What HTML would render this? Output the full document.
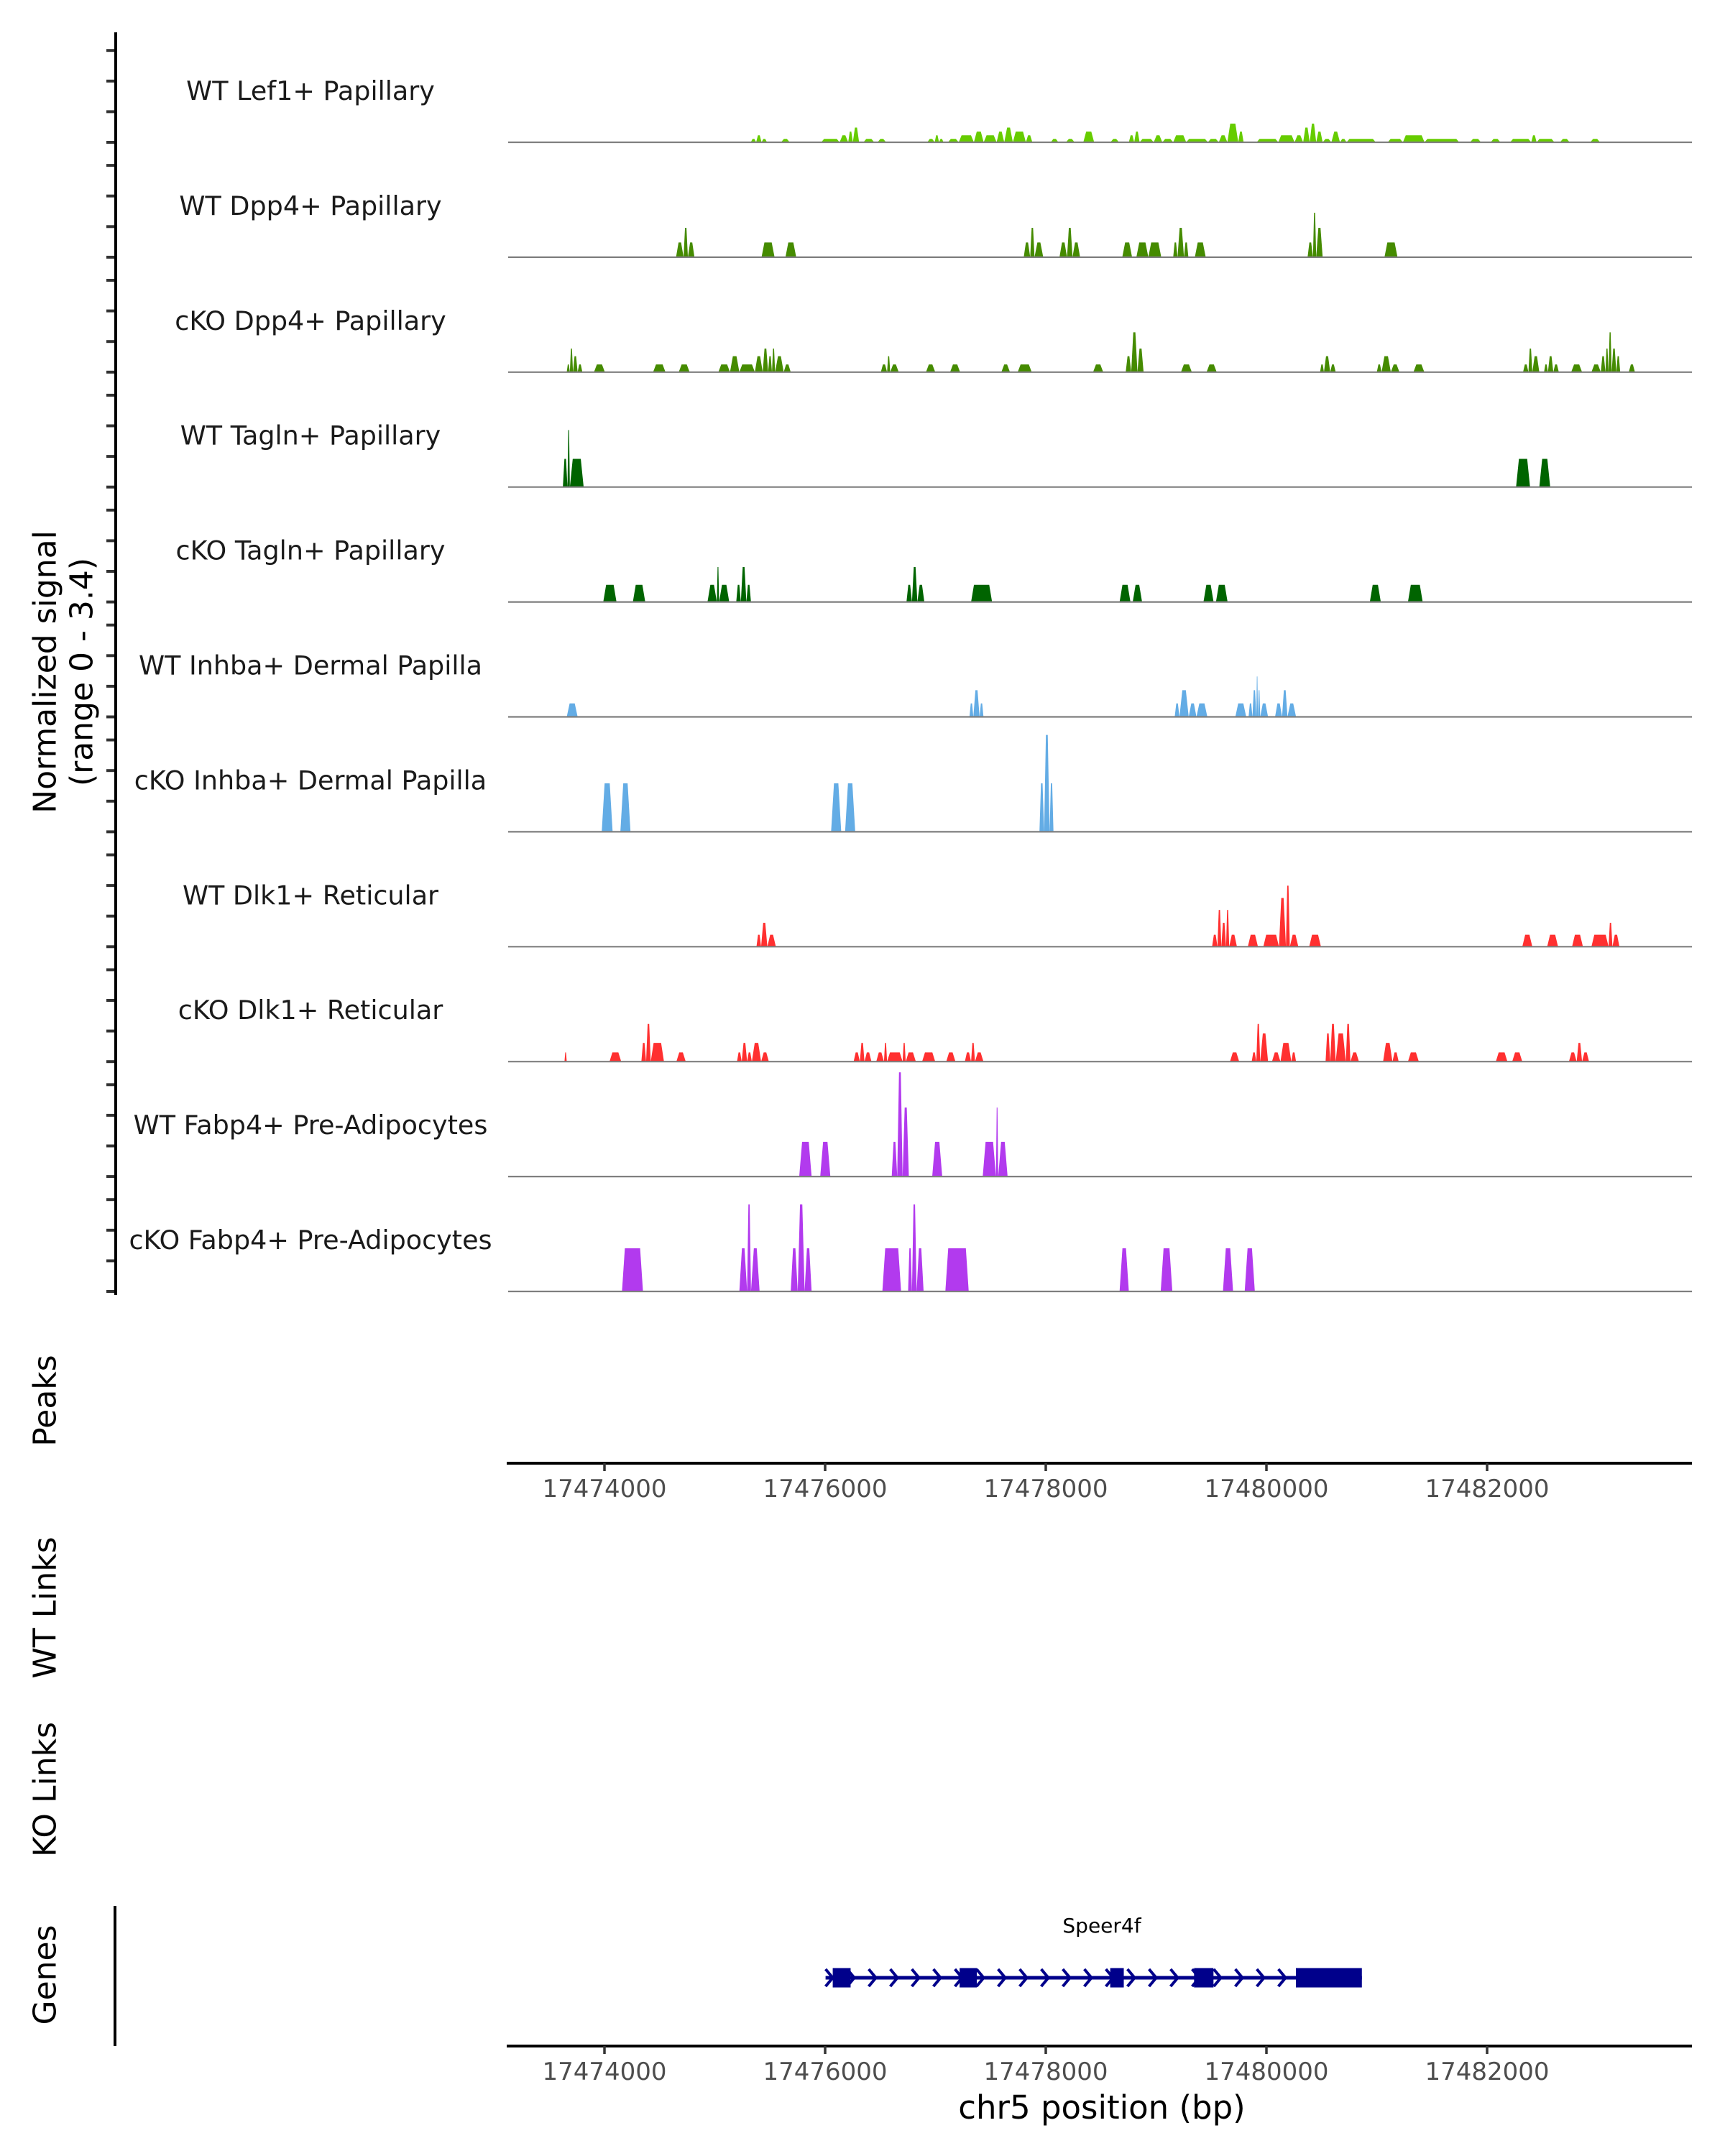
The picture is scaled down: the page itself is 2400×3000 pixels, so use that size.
<!DOCTYPE html>
<html><head><meta charset="utf-8">
<style>
html,body{margin:0;padding:0;background:#fff;}
svg{display:block;font-family:"DejaVu Sans","Liberation Sans",sans-serif;}
</style></head>
<body>
<svg id="chart" width="2400" height="3000" viewBox="0 0 2400 3000" xmlns="http://www.w3.org/2000/svg">
<rect x="0" y="0" width="2400" height="3000" fill="#fff"/>
<g id="tracks"></g>
<g id="axes"></g>
</svg>
<script>
// Region: offsets are bp relative to 17473000
const REGION_START = 17473000;
const trackNames = ["WT Lef1+ Papillary","WT Dpp4+ Papillary","cKO Dpp4+ Papillary","WT Tagln+ Papillary","cKO Tagln+ Papillary","WT Inhba+ Dermal Papilla","cKO Inhba+ Dermal Papilla","WT Dlk1+ Reticular","cKO Dlk1+ Reticular","WT Fabp4+ Pre-Adipocytes","cKO Fabp4+ Pre-Adipocytes"];
const trackColors = ["#66cc00","#458b00","#458b00","#006400","#006400","#63ace5","#63ace5","#ff3030","#ff3030","#b23aee","#b23aee"];
// [startOffset, endOffset, signal]
const covLef1WT = [[2352,2402,0.11],[2402,2452,0.23],[2452,2503,0.11],[2633,2714,0.11],[3006,3177,0.11],[3177,3257,0.23],[3257,3300,0.35],[3300,3358,0.48],[3398,3499,0.11],[3529,3609,0.11],[3991,4060,0.11],[4060,4100,0.23],[4100,4142,0.11],[4183,4283,0.11],[4283,4424,0.23],[4424,4515,0.35],[4515,4635,0.23],[4635,4706,0.35],[4706,4786,0.48],[4786,4907,0.35],[4907,4967,0.23],[5138,5209,0.11],[5279,5360,0.11],[5440,5541,0.35],[5692,5772,0.11],[5863,5913,0.23],[5913,5963,0.35],[5963,6094,0.11],[6094,6174,0.23],[6174,6275,0.11],[6275,6396,0.23],[6396,6597,0.11],[6597,6698,0.11],[6698,6778,0.23],[6778,6879,0.61],[6879,6929,0.35],[7050,7251,0.11],[7251,7402,0.23],[7402,7482,0.23],[7482,7543,0.48],[7543,7603,0.61],[7603,7663,0.35],[7663,7744,0.11],[7744,7824,0.35],[7824,7885,0.11],[7885,8156,0.11],[8267,8408,0.11],[8408,8609,0.23],[8609,8931,0.11],[9032,9133,0.11],[9223,9314,0.11],[9404,9600,0.11],[9600,9650,0.23],[9650,9816,0.11],[9867,9957,0.11],[10148,10239,0.11]];
const covDpp4WT = [[1658,1728,0.48],[1728,1768,0.96],[1768,1829,0.48],[2452,2573,0.48],[2674,2774,0.48],[4887,4947,0.48],[4947,4987,0.96],[4987,5068,0.48],[5219,5289,0.48],[5289,5340,0.96],[5340,5410,0.48],[5802,5893,0.48],[5933,6044,0.48],[6044,6164,0.48],[6275,6315,0.48],[6315,6375,0.96],[6375,6416,0.48],[6476,6577,0.48],[7523,7573,0.48],[7573,7603,1.45],[7603,7663,0.96],[8237,8358,0.48]];
const covDpp4KO = [[643,672,0.25],[672,701,0.77],[701,744,0.52],[744,788,0.25],[896,997,0.25],[1445,1560,0.25],[1683,1784,0.25],[2051,2159,0.25],[2159,2246,0.52],[2246,2390,0.25],[2390,2463,0.52],[2463,2513,0.77],[2513,2549,0.52],[2549,2578,0.77],[2578,2658,0.52],[2658,2723,0.25],[3560,3618,0.25],[3618,3647,0.52],[3647,3726,0.25],[3979,4065,0.25],[4203,4296,0.25],[4679,4759,0.25],[4831,4961,0.25],[5531,5625,0.25],[5834,5885,0.52],[5885,5943,1.3],[5943,6000,0.77],[6347,6448,0.25],[6585,6679,0.25],[7639,7675,0.25],[7675,7733,0.52],[7733,7784,0.25],[8166,8210,0.25],[8210,8296,0.52],[8296,8376,0.25],[8506,8607,0.25],[9524,9574,0.25],[9574,9610,0.77],[9610,9675,0.52],[9719,9755,0.25],[9755,9805,0.52],[9805,9856,0.25],[9971,10072,0.25],[10159,10246,0.25],[10246,10289,0.52],[10289,10318,0.77],[10318,10347,1.3],[10347,10390,0.77],[10390,10426,0.52],[10506,10563,0.25]];
const covTaglnWT = [[607,650,0.92],[650,672,1.86],[672,800,0.92],[9459,9589,0.92],[9675,9776,0.92]];
const covTaglnKO = [[982,1105,0.56],[1257,1372,0.56],[1950,2037,0.56],[2037,2058,1.14],[2058,2152,0.56],[2217,2260,0.56],[2260,2311,1.14],[2311,2354,0.56],[3798,3849,0.56],[3849,3899,1.14],[3899,3964,0.56],[4398,4593,0.56],[5777,5878,0.56],[5899,5986,0.56],[6556,6650,0.56],[6672,6780,0.56],[8101,8203,0.56],[8455,8592,0.56]];
const covInhbaWT = [[643,744,0.44],[4383,4419,0.44],[4419,4477,0.87],[4477,4513,0.44],[6289,6333,0.44],[6333,6419,0.87],[6419,6491,0.44],[6491,6592,0.44],[6852,6953,0.44],[6975,7011,0.44],[7011,7047,0.87],[7047,7062,1.32],[7062,7083,0.87],[7083,7156,0.44],[7221,7286,0.44],[7286,7336,0.87],[7336,7416,0.44]];
const covInhbaKO = [[968,1069,1.58],[1141,1235,1.58],[3098,3192,1.58],[3228,3322,1.58],[5033,5076,1.58],[5076,5127,3.16],[5127,5163,1.58]];
const covDlk1WT = [[2405,2448,0.39],[2448,2506,0.78],[2506,2585,0.39],[6636,6686,0.39],[6686,6722,1.2],[6722,6766,0.78],[6766,6795,1.2],[6795,6867,0.39],[6968,7062,0.39],[7112,7257,0.39],[7257,7322,1.59],[7322,7358,1.99],[7358,7437,0.39],[7538,7647,0.39],[9517,9610,0.39],[9748,9849,0.39],[9979,10080,0.39],[10159,10318,0.39],[10318,10354,0.78],[10354,10419,0.39]];
const covDlk1KO = [[622,643,0.3],[1040,1149,0.3],[1336,1380,0.61],[1380,1423,1.23],[1423,1546,0.61],[1661,1748,0.3],[2224,2268,0.3],[2268,2318,0.61],[2318,2362,0.3],[2362,2448,0.61],[2448,2520,0.3],[3307,3365,0.3],[3365,3408,0.61],[3408,3473,0.3],[3517,3589,0.3],[3589,3618,0.61],[3618,3762,0.3],[3762,3791,0.61],[3791,3885,0.3],[3943,4065,0.3],[4167,4253,0.3],[4340,4398,0.3],[4398,4434,0.61],[4434,4513,0.3],[6802,6888,0.3],[7004,7047,0.3],[7047,7083,1.23],[7083,7156,0.92],[7192,7271,0.3],[7271,7372,0.61],[7372,7416,0.3],[7690,7733,0.92],[7733,7784,1.23],[7784,7878,0.92],[7878,7921,1.23],[7921,8000,0.3],[8224,8311,0.61],[8311,8369,0.3],[8455,8556,0.3],[9271,9379,0.3],[9423,9517,0.3],[9950,10022,0.3],[10022,10072,0.61],[10072,10137,0.3]];
const covFabp4WT = [[2802,2917,1.13],[2997,3091,1.13],[3661,3712,1.13],[3712,3762,3.4],[3762,3820,2.25],[4037,4130,1.13],[4506,4629,1.13],[4629,4650,2.25],[4650,4737,1.13]];
const covFabp4KO = [[1156,1351,1.41],[2246,2318,1.41],[2318,2354,2.84],[2354,2434,1.41],[2723,2788,1.41],[2788,2852,2.84],[2852,2917,1.41],[3574,3748,1.41],[3813,3849,1.41],[3849,3892,2.84],[3892,3957,1.41],[4159,4376,1.41],[5777,5863,1.41],[6159,6267,1.41],[6737,6831,1.41],[6939,7033,1.41]];
const coverage = [covLef1WT,covDpp4WT,covDpp4KO,covTaglnWT,covTaglnKO,covInhbaWT,covInhbaKO,covDlk1WT,covDlk1KO,covFabp4WT,covFabp4KO];
const xTicks = [17474000,17476000,17478000,17480000,17482000];
const geneName = "Speer4f";
const geneSpan = [17476004,17480865];
const geneExons = [[17476069,17476231],[17477219,17477375],[17478584,17478707],[17479344,17479520],[17480267,17480865]];
const yMax = 3.4;

const NS="http://www.w3.org/2000/svg";
function mk(tag, attrs, parent){const e=document.createElementNS(NS,tag);for(const k in attrs)e.setAttribute(k,attrs[k]);parent.appendChild(e);return e;}
const xScale = bp => 841 + (bp - 17474000) * 307 / 2000;
// coverage offsets were read in a slightly stretched unit; calibrate to the axis
const OFFSET_CAL = 0.976;
const xOff = off => xScale(17474000 + (off - 1000) * OFFSET_CAL) + 1;
const PX_PER_UNIT = 145 / yMax;
const baseY = i => 198 + i * 159.9;
const PANEL_L = 707, PANEL_R = 2354;
const tracksG = document.getElementById('tracks');
const axesG = document.getElementById('axes');

coverage.forEach((segs, i) => {
  const g = mk('g', {}, tracksG);
  
  
  const b = baseY(i);
  segs.forEach(s => {
    const x0 = xOff(s[0]), x1 = xOff(s[1]), y = b - s[2] * PX_PER_UNIT;
    const r = Math.min(4, (x1-x0)/3);
    const p = mk('polygon', {points: `${x0},${b} ${x0+r},${y} ${x1-r},${y} ${x1},${b}`, fill: trackColors[i]}, g);
    
    
  });
  const bl = mk('line', {x1: PANEL_L, x2: PANEL_R, y1: b, y2: b, stroke: '#7f7f7f', 'stroke-width': 2.2}, g);
  
  
  const t = mk('text', {x: 432, y: b - 59, 'text-anchor': 'middle', 'font-size': 36.5, fill: '#1a1a1a'}, g);
  t.textContent = trackNames[i];
  
  
  for (let k = 0; k < 4; k++) {
    const ty = b - k * 42.6;
    const tk = mk('line', {x1: 148, x2: 161, y1: ty, y2: ty, stroke: '#333', 'stroke-width': 4}, axesG);
    
    
  }
});
const ya = mk('line', {x1: 161, x2: 161, y1: 45, y2: 1802, stroke: '#000', 'stroke-width': 4}, axesG);



function vtext(txt, cx, cy, size, name){
  const t = mk('text', {x: cx, y: cy, 'text-anchor': 'middle', 'dominant-baseline': 'central', 'font-size': size, fill: '#000', transform: `rotate(-90 ${cx} ${cy})`}, axesG);
  t.textContent = txt;
  
  
}
vtext('Normalized signal', 63, 935, 44, 'y-axis-title');
vtext('(range 0 - 3.4)', 114, 935, 44, 'y-axis-subtitle');
vtext('Peaks', 63, 1949, 44, 'peaks-track-title');
vtext('WT Links', 63, 2237, 44, 'wt-links-title');
vtext('KO Links', 63, 2490, 44, 'ko-links-title');
vtext('Genes', 63, 2748, 44, 'genes-title');

function xAxis(y, name){
  const g = mk('g', {}, axesG);
  
  
  const l = mk('line', {x1: 705, x2: PANEL_R, y1: y, y2: y, stroke: '#000', 'stroke-width': 4}, g);
  
  
  xTicks.forEach(v => {
    const x = xScale(v);
    const tk = mk('line', {x1: x, x2: x, y1: y, y2: y + 11, stroke: '#333', 'stroke-width': 3.5}, g);
    
    
    const t = mk('text', {x: x, y: y + 47, 'text-anchor': 'middle', 'font-size': 34, fill: '#4d4d4d'}, g);
    t.textContent = v;
    
    
  });
}
xAxis(2036, 'peaks-x-axis');
xAxis(2847, 'genes-x-axis');
const xt = mk('text', {x: 1533, y: 2948, 'text-anchor': 'middle', 'font-size': 45, fill: '#000'}, axesG);
xt.textContent = 'chr5 position (bp)';



const ga = mk('line', {x1: 160, x2: 160, y1: 2652, y2: 2847, stroke: '#000', 'stroke-width': 4}, axesG);



const gg = mk('g', {}, tracksG);


const gy = 2752;
const gl = mk('line', {x1: xScale(geneSpan[0]), x2: xScale(geneSpan[1]), y1: gy, y2: gy, stroke: '#00008b', 'stroke-width': 5}, gg);


for (let x = xScale(geneSpan[0]) + 5; x < xScale(geneSpan[1]) - 10; x += 30) {
  const c = mk('polyline', {points: `${x-5},${gy-12} ${x+5},${gy} ${x-5},${gy+12}`, fill: 'none', stroke: '#00008b', 'stroke-width': 4}, gg);
  
  
}
geneExons.forEach(e => {
  const r = mk('rect', {x: xScale(e[0]), y: gy - 13.5, width: xScale(e[1]) - xScale(e[0]), height: 27, fill: '#00008b'}, gg);
  
  
});
const gn = mk('text', {x: 1533, y: 2689, 'text-anchor': 'middle', 'font-size': 28, fill: '#000'}, gg);
gn.textContent = geneName;


</script>
</body></html>
